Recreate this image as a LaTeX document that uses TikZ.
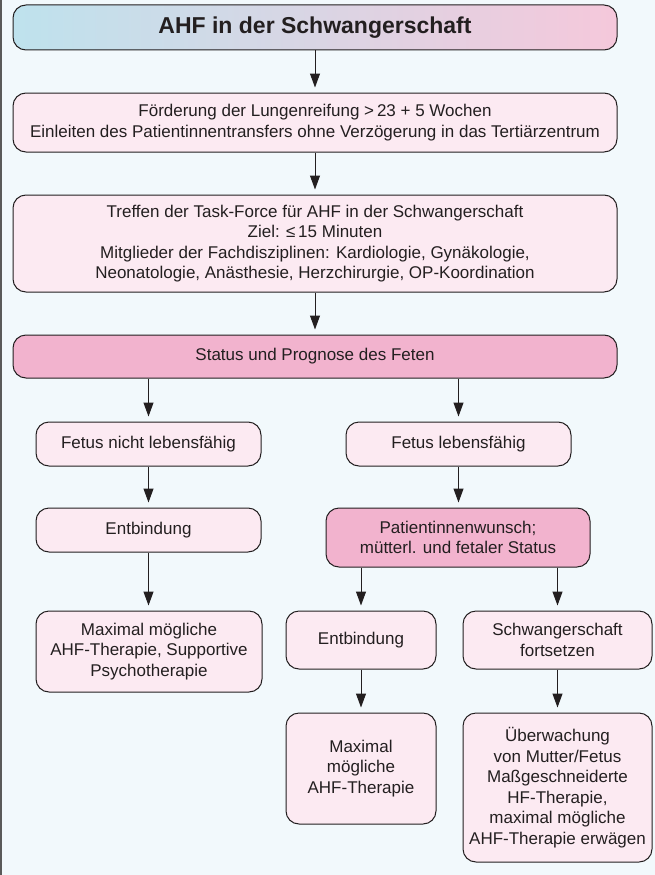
\documentclass[tikz,border=0pt]{standalone}
\usepackage{fontspec}
\setmainfont{Liberation Sans}
\usetikzlibrary{arrows.meta}
\definecolor{bgc}{RGB}{242,249,252}
\definecolor{framec}{RGB}{90,90,90}
\definecolor{linec}{RGB}{35,31,32}
\definecolor{lightpink}{RGB}{252,234,242}
\definecolor{darkpink}{RGB}{242,179,206}
\definecolor{gradl}{RGB}{190,226,237}
\definecolor{gradr}{RGB}{245,200,219}
\tikzset{
  box/.style={draw=linec, line width=1pt, rounded corners=13pt, fill=lightpink,
    inner sep=0pt, align=center, text=linec,
    font=\fontsize{17}{20.5}\selectfont},
  hibox/.style={box, fill=darkpink},
  titlebox/.style={box, fill=none, left color=gradl, right color=gradr,
    font=\fontsize{23}{26}\selectfont\bfseries},
  conn/.style={draw=linec, line width=1pt, shorten >=5pt,
    -{Triangle[length=14pt,width=10pt]}}
}
\begin{document}
\begin{tikzpicture}[x=1pt,y=1pt]
\fill[bgc] (0,0) rectangle (655,-875);
\useasboundingbox (0,0) rectangle (655,-875);
\draw[framec, line width=2pt] (1,0) -- (1,-875);

\node[titlebox, minimum width=604pt, minimum height=45pt] (title) at (315,-27.5) {AHF in der Schwangerschaft};
\node[box, minimum width=604pt, minimum height=59pt] (b2) at (315,-122.5)
  {Förderung der Lungenreifung >\,23 + 5 Wochen\\Einleiten des Patientinnentransfers ohne Verzögerung in das Tertiärzentrum};
\node[box, minimum width=604pt, minimum height=97pt] (b3) at (315,-243.5)
  {Treffen der Task-Force für AHF in der Schwangerschaft\\Ziel: ≤\,15 Minuten\\Mitglieder der Fachdisziplinen: Kardiologie, Gynäkologie,\\Neonatologie, Anästhesie, Herzchirurgie, OP-Koordination};
\node[hibox, minimum width=604pt, minimum height=43pt] (status) at (315,-356.5) {Status und Prognose des Feten};

\node[box, minimum width=225pt, minimum height=44pt] (fnl) at (148.5,-444) {Fetus nicht lebensfähig};
\node[box, minimum width=225pt, minimum height=44pt] (fl) at (458.5,-444) {Fetus lebensfähig};
\node[box, minimum width=225pt, minimum height=44pt] (entb1) at (148.5,-530) {Entbindung};
\node[hibox, minimum width=264pt, minimum height=59pt] (pw) at (458,-537.5) {Patientinnenwunsch;\\mütterl. und fetaler Status};

\node[box, minimum width=226pt, minimum height=81pt] (max1) at (149,-651.5)
  {Maximal mögliche\\AHF-Therapie, Supportive\\Psychotherapie};
\node[box, minimum width=150pt, minimum height=58pt] (entb2) at (361,-640) {Entbindung};
\node[box, minimum width=189pt, minimum height=58pt] (schw) at (557.5,-640) {Schwangerschaft\\fortsetzen};
\node[box, minimum width=150pt, minimum height=111pt] (max2) at (361,-768.5) {Maximal\\mögliche\\AHF-Therapie};
\node[box, minimum width=189pt, minimum height=149pt] (ueb) at (557.5,-787.5)
  {Überwachung\\von Mutter/Fetus\\Maßgeschneiderte\\HF-Therapie,\\maximal mögliche\\AHF-Therapie erwägen};

\draw[conn] (title) -- (b2);
\draw[conn] (b2) -- (b3);
\draw[conn] (b3) -- (status);
\draw[conn] (fnl.north |- status.south) -- (fnl.north);
\draw[conn] (fl.north |- status.south) -- (fl.north);
\draw[conn] (fnl) -- (entb1);
\draw[conn] (fl.south) -- (fl.south |- pw.north);
\draw[conn] (entb1.south) -- (entb1.south |- max1.north);
\draw[conn] (entb2.north |- pw.south) -- (entb2.north);
\draw[conn] (schw.north |- pw.south) -- (schw.north);
\draw[conn] (entb2) -- (max2);
\draw[conn] (schw) -- (ueb);
\end{tikzpicture}
\end{document}
